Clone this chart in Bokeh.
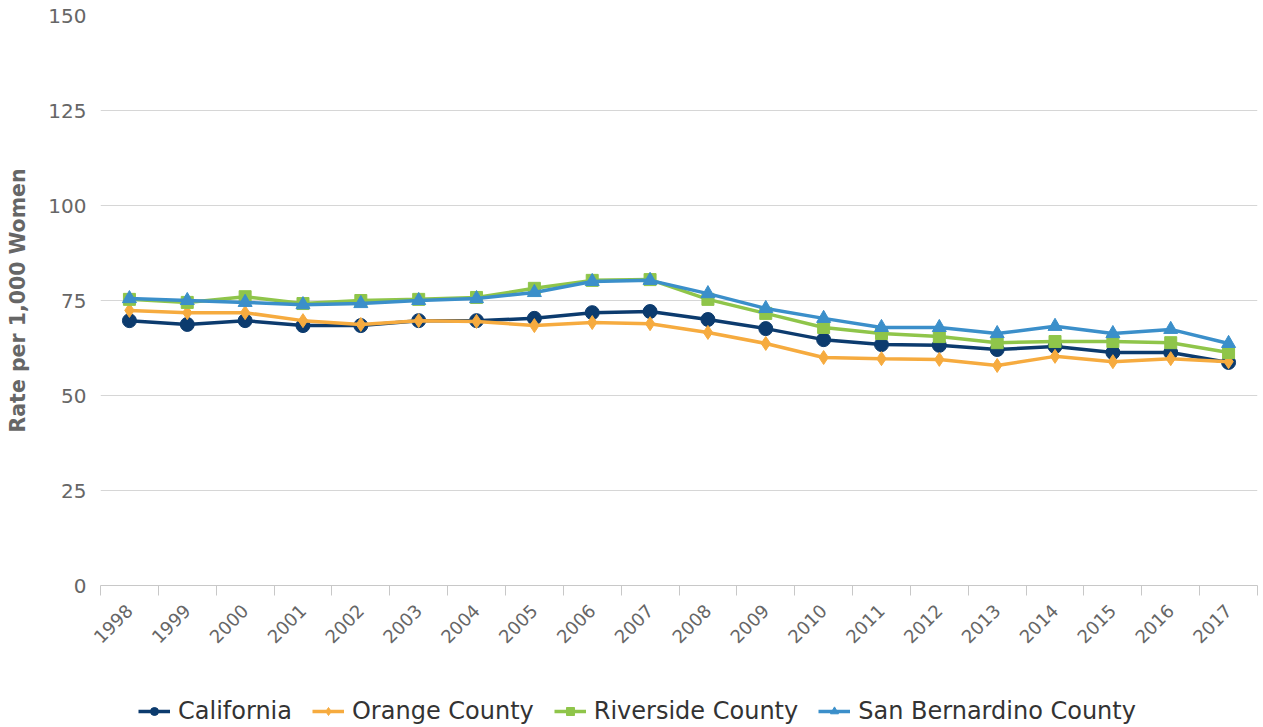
from bokeh.plotting import figure
from bokeh.models import FixedTicker, Range1d, Legend, LegendItem
from bokeh.layouts import column
from bokeh.embed import file_html
from bokeh.resources import INLINE
import math

years = [str(y) for y in range(1998, 2018)]
california = [69.7, 68.7, 69.7, 68.4, 68.4, 69.7, 69.7, 70.3, 71.8, 72.1,
              70.0, 67.6, 64.7, 63.4, 63.2, 62.1, 62.9, 61.3, 61.3, 58.7]
orange = [72.4, 71.8, 71.8, 69.7, 68.7, 69.7, 69.5, 68.4, 69.2, 68.9,
          66.6, 63.7, 60.0, 59.7, 59.5, 57.9, 60.3, 58.9, 59.7, 58.9]
riverside = [75.3, 74.5, 76.0, 74.2, 75.0, 75.3, 75.8, 78.2, 80.3, 80.5,
             75.3, 71.6, 67.9, 66.3, 65.5, 63.9, 64.2, 64.2, 63.9, 61.3]
san_bernardino = [75.5, 75.0, 74.5, 73.9, 74.2, 75.0, 75.5, 77.1, 80.0, 80.3,
                  76.8, 72.9, 70.3, 67.9, 67.9, 66.3, 68.2, 66.3, 67.4, 63.7]
y_ticks = [0, 25, 50, 75, 100, 125, 150]

FONT = "DejaVu Sans"
x = list(range(len(years)))

p = figure(width=1258, height=680, output_backend="svg", toolbar_location=None,
           x_range=Range1d(-0.5, len(years) - 0.5), y_range=Range1d(0, 150),
           min_border_left=100, min_border_right=1, min_border_top=15, min_border_bottom=95)
p.outline_line_color = None
p.background_fill_color = "white"
p.border_fill_color = "white"

# axes
p.xaxis.ticker = FixedTicker(ticks=x, minor_ticks=[i - 0.5 for i in range(len(years) + 1)])
p.xaxis.major_label_overrides = {i: y for i, y in enumerate(years)}
p.xaxis.major_label_orientation = math.pi / 4
p.xaxis.major_tick_out = 0
p.xaxis.major_tick_in = 0
p.xaxis.minor_tick_out = 10
p.xaxis.minor_tick_in = 0
p.xaxis.minor_tick_line_color = "#c8c8c8"
p.xaxis.axis_line_color = "#c8c8c8"
p.xaxis.major_label_text_font = FONT
p.xaxis.major_label_text_font_size = "18px"
p.xaxis.major_label_text_color = "#666666"
p.xaxis.major_label_standoff = 12

p.yaxis.ticker = FixedTicker(ticks=y_ticks)
p.yaxis.axis_line_color = None
p.yaxis.major_tick_line_color = None
p.yaxis.minor_tick_line_color = None
p.yaxis.major_label_text_font = FONT
p.yaxis.major_label_text_font_size = "20px"
p.yaxis.major_label_text_color = "#666666"
p.yaxis.major_label_standoff = 8
p.yaxis.axis_label = "Rate per 1,000 Women"
p.yaxis.axis_label_text_font = FONT
p.yaxis.axis_label_text_font_size = "20.5px"
p.yaxis.axis_label_text_font_style = "bold"
p.yaxis.axis_label_text_color = "#666666"
p.yaxis.axis_label_standoff = 15

p.xgrid.grid_line_color = None
p.ygrid.ticker = FixedTicker(ticks=y_ticks)
p.ygrid.grid_line_color = "#d6d6d6"
p.ygrid.grid_line_width = 1

series = [
    ("California", california, "#0c3b6e", "circle", 14),
    ("Orange County", orange, "#f6ab3f", "diamond", 14),
    ("Riverside County", riverside, "#8fc54a", "square", 12),
    ("San Bernardino County", san_bernardino, "#3b8fca", "triangle", 14),
]

for name, vals, color, marker, size in series:
    p.line(x, vals, line_color=color, line_width=3.5)
    p.scatter(x, vals, marker=marker, size=size, fill_color=color, line_color=color)

# legend strip below the chart
lf = figure(width=1258, height=45, output_backend="svg", toolbar_location=None,
            x_range=Range1d(-0.5, len(years) - 0.5), y_range=Range1d(1000, 1001),
            x_axis_type=None, y_axis_type=None,
            min_border_left=0, min_border_right=0, min_border_top=0, min_border_bottom=0)
lf.outline_line_color = None
lf.xgrid.visible = False
lf.ygrid.visible = False
lf.border_fill_color = "white"

items = []
for name, vals, color, marker, size in series:
    r1 = lf.line(x, vals, line_color=color, line_width=3.5)
    r2 = lf.scatter(x, vals, marker=marker, size=size, fill_color=color, line_color=color)
    items.append(LegendItem(label=name, renderers=[r1, r2]))

legend = Legend(items=items, orientation="horizontal", location=(38, 0),
                label_text_font=FONT, label_text_font_size="24px", label_text_color="#333333",
                glyph_width=32, glyph_height=20, spacing=20, label_standoff=8,
                border_line_color=None, background_fill_alpha=0, padding=0, margin=0)
lf.add_layout(legend, "center")

layout = column(p, lf, spacing=0)
open("out.html", "w").write(file_html(layout, INLINE))
